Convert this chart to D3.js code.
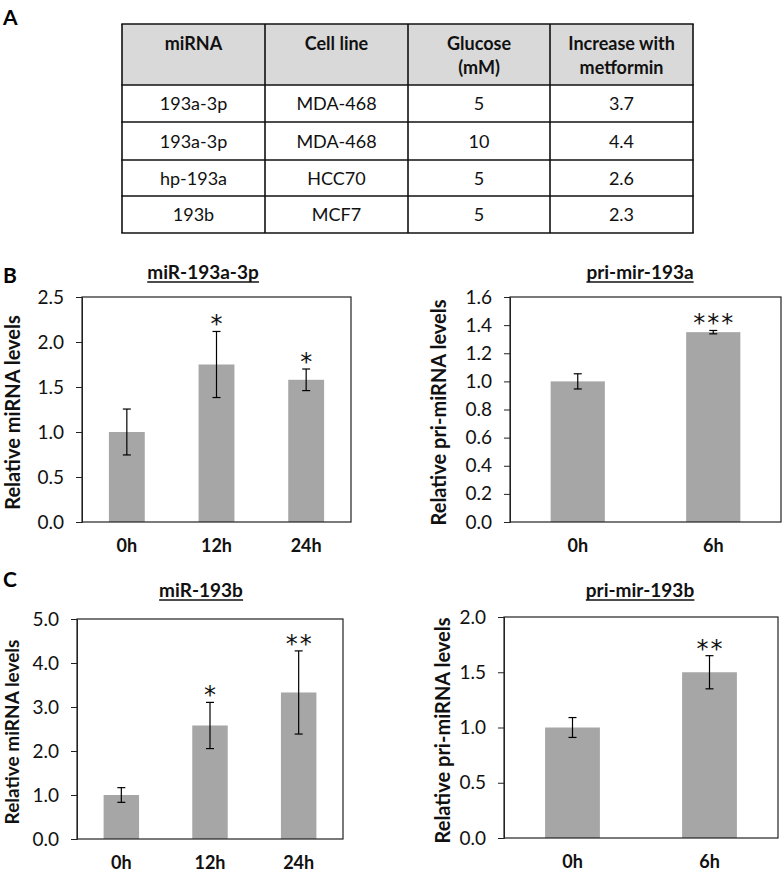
<!DOCTYPE html>
<html><head><meta charset="utf-8">
<script src="https://cdn.jsdelivr.net/npm/d3@7"></script>
<style>body{margin:0;background:#fff}svg{display:block;font-family:Lato,"Open Sans",sans-serif}</style>
</head><body>
<svg id="c" width="782" height="873"></svg>
<script>
// ---- Table data (panel A)
const tableHeaders = [["miRNA"], ["Cell line"], ["Glucose", "(mM)"], ["Increase with", "metformin"]];
const tableMiRNA = ["193a-3p", "193a-3p", "hp-193a", "193b"];
const tableCellLine = ["MDA-468", "MDA-468", "HCC70", "MCF7"];
const tableGlucose = ["5", "10", "5", "5"];
const tableIncrease = ["3.7", "4.4", "2.6", "2.3"];

// ---- Panel B left
const bLeftCats = ["0h", "12h", "24h"];
const bLeftVals = [1.0, 1.75, 1.58];
const bLeftErr = [0.255, 0.367, 0.12];
const bLeftStars = ["", "*", "*"];
const bLeftTicks = [0, 0.5, 1.0, 1.5, 2.0, 2.5];
// ---- Panel B right
const bRightCats = ["0h", "6h"];
const bRightVals = [1.0, 1.35];
const bRightErr = [0.054, 0.012];
const bRightStars = ["", "***"];
const bRightTicks = [0, 0.2, 0.4, 0.6, 0.8, 1.0, 1.2, 1.4, 1.6];
// ---- Panel C left
const cLeftCats = ["0h", "12h", "24h"];
const cLeftVals = [1.0, 2.58, 3.33];
const cLeftErr = [0.167, 0.525, 0.945];
const cLeftStars = ["", "*", "**"];
const cLeftTicks = [0, 1, 2, 3, 4, 5];
// ---- Panel C right
const cRightCats = ["0h", "6h"];
const cRightVals = [1.0, 1.5];
const cRightErr = [0.09, 0.15];
const cRightStars = ["", "**"];
const cRightTicks = [0, 0.5, 1.0, 1.5, 2.0];

const svg = d3.select("#c");

// Panel letters
[["A", 3, 25], ["B", 3, 283], ["C", 3, 587]].forEach(([t, x, y]) => {
  svg.append("text").attr("x", x).attr("y", y).text(t)
    .attr("font-size", 21).attr("font-weight", "bold").attr("fill", "#000");
});

// ---- Table
(function () {
  const colEdges = [122, 265, 408, 550, 693];
  const rowEdges = [24, 85, 122, 160, 196, 233];
  const g = svg.append("g");
  g.append("rect").attr("x", colEdges[0]).attr("y", rowEdges[0])
    .attr("width", colEdges[4] - colEdges[0]).attr("height", rowEdges[1] - rowEdges[0])
    .attr("fill", "#d9d9d9");
  rowEdges.forEach(y => g.append("line").attr("x1", colEdges[0] - 0.75).attr("x2", colEdges[4] + 0.75)
    .attr("y1", y).attr("y2", y).attr("stroke", "#111").attr("stroke-width", 1.6));
  colEdges.forEach(x => g.append("line").attr("x1", x).attr("x2", x)
    .attr("y1", rowEdges[0]).attr("y2", rowEdges[5]).attr("stroke", "#111").attr("stroke-width", 1.6));
  const cx = i => (colEdges[i] + colEdges[i + 1]) / 2;
  tableHeaders.forEach((lines, i) => {
    lines.forEach((l, j) => {
      g.append("text").attr("x", cx(i)).attr("y", 50 + j * 24).attr("text-anchor", "middle")
        .attr("font-size", 18).attr("font-weight", "bold").attr("fill", "#111").text(l);
    });
  });
  const cols = [tableMiRNA, tableCellLine, tableGlucose, tableIncrease];
  cols.forEach((col, i) => {
    col.forEach((v, r) => {
      const yc = (rowEdges[r + 1] + rowEdges[r + 2]) / 2;
      g.append("text").attr("x", cx(i)).attr("y", yc + 6.5).attr("text-anchor", "middle")
        .attr("font-size", 18).attr("fill", "#111").text(v);
    });
  });
})();

function barChart(o) {
  const g = svg.append("g");
  const x = d3.scaleBand().domain(o.cats).range([o.x0, o.x1]).paddingInner(0.6).paddingOuter(0.3);
  const y = d3.scaleLinear().domain([0, o.max]).range([o.y1, o.y0]);
  g.selectAll("rect.bar").data(o.cats).join("rect").attr("class", "bar")
    .attr("x", d => x(d)).attr("width", x.bandwidth())
    .attr("y", (d, i) => y(o.vals[i])).attr("height", (d, i) => y(0) - y(o.vals[i]))
    .attr("fill", "#a6a6a6");
  const cap = 4;
  o.cats.forEach((c, i) => {
    const xc = x(c) + x.bandwidth() / 2;
    const hi = y(o.vals[i] + o.err[i]), lo = y(o.vals[i] - o.err[i]);
    g.append("line").attr("x1", xc).attr("x2", xc).attr("y1", hi).attr("y2", lo).attr("stroke", "#000").attr("stroke-width", 1.2);
    [hi, lo].forEach(yy => g.append("line").attr("x1", xc - cap).attr("x2", xc + cap).attr("y1", yy).attr("y2", yy).attr("stroke", "#000").attr("stroke-width", 1.2));
    if (o.stars[i]) {
      g.append("text").attr("x", xc + 1).attr("y", hi + 1).attr("text-anchor", "middle")
        .attr("font-size", 24).attr("font-family", "DejaVu Sans").attr("letter-spacing", 2).attr("fill", "#111").text(o.stars[i]);
    }
  });
  g.append("rect").attr("x", o.x0).attr("y", o.y0).attr("width", o.x1 - o.x0).attr("height", o.y1 - o.y0)
    .attr("fill", "none").attr("stroke", "#222").attr("stroke-width", 1.2);
  const ya = d3.axisLeft(y).tickValues(o.ticks).tickFormat(d3.format(o.fmt)).tickSize(6).tickPadding(12);
  const ag = g.append("g").attr("transform", `translate(${o.x0},0)`).call(ya);
  ag.select(".domain").attr("stroke", "#222");
  ag.selectAll(".tick line").attr("stroke", "#222");
  ag.selectAll("text").attr("font-size", 19).attr("fill", "#111").attr("font-family", "Lato, sans-serif");
  const xa = d3.axisBottom(x).tickSize(0).tickPadding(17);
  const xg = g.append("g").attr("transform", `translate(0,${o.y1})`).call(xa);
  xg.select(".domain").remove();
  xg.selectAll("text").attr("font-size", 18).attr("font-weight", "bold").attr("fill", "#111").attr("font-family", "Lato, sans-serif");
  const t = g.append("text").attr("x", o.titleX).attr("y", o.titleY).attr("text-anchor", "middle")
    .attr("font-size", 19).attr("font-weight", "bold").attr("fill", "#111").text(o.title);
  const bb = t.node().getBBox();
  g.append("line").attr("x1", bb.x).attr("x2", bb.x + bb.width).attr("y1", o.titleY + 3).attr("y2", o.titleY + 3)
    .attr("stroke", "#111").attr("stroke-width", 1.3);
  g.append("text").attr("transform", `translate(${o.ylX},${(o.y0 + o.y1) / 2 + 3}) rotate(-90)`)
    .attr("text-anchor", "middle").attr("font-size", o.ylSize || 20).attr("font-weight", "bold").attr("fill", "#111").text(o.ylabel);
}

barChart({cats: bLeftCats, vals: bLeftVals, err: bLeftErr, stars: bLeftStars, ticks: bLeftTicks, max: 2.5, fmt: ".1f",
  x0: 82, x1: 351, y0: 297, y1: 522, title: "miR-193a-3p", titleX: 203, titleY: 279, ylabel: "Relative miRNA levels", ylX: 20});
barChart({cats: bRightCats, vals: bRightVals, err: bRightErr, stars: bRightStars, ticks: bRightTicks, max: 1.6, fmt: ".1f",
  x0: 510, x1: 781, y0: 297, y1: 522, title: "pri-mir-193a", titleX: 640, titleY: 279, ylabel: "Relative pri-miRNA levels", ylX: 446});
barChart({cats: cLeftCats, vals: cLeftVals, err: cLeftErr, stars: cLeftStars, ticks: cLeftTicks, max: 5, fmt: ".1f",
  x0: 77, x1: 343, y0: 619, y1: 839, title: "miR-193b", titleX: 201, titleY: 597, ylabel: "Relative miRNA levels", ylX: 19, ylSize: 19});
barChart({cats: cRightCats, vals: cRightVals, err: cRightErr, stars: cRightStars, ticks: cRightTicks, max: 2.0, fmt: ".1f",
  x0: 504, x1: 778, y0: 617, y1: 838, title: "pri-mir-193b", titleX: 640, titleY: 597, ylabel: "Relative pri-miRNA levels", ylX: 450});
</script>
</body></html>
